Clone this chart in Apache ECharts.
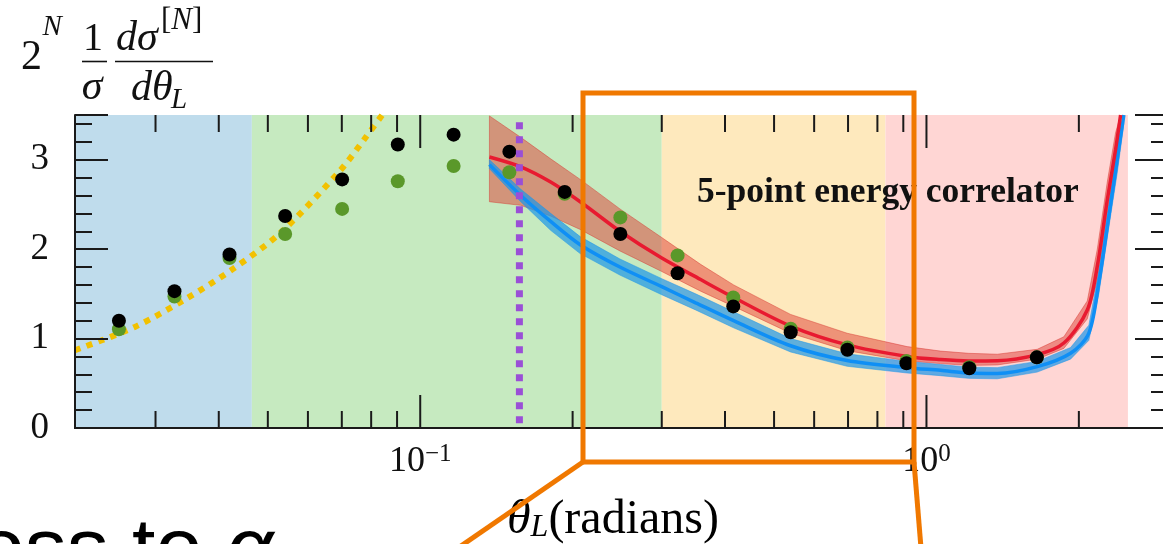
<!DOCTYPE html>
<html><head><meta charset="utf-8">
<script src="https://cdn.jsdelivr.net/npm/echarts@6/dist/echarts.min.js"></script>
<style>html,body{margin:0;padding:0;background:#fff;overflow:hidden}#c{width:1163px;height:544px}</style>
</head><body><div id="c"></div>
<script>
// ---------------- data ----------------
const bandEdges = [0.0208, 0.0465, 0.30, 0.83, 2.5];          // theta_L region boundaries
const thetaBins = [0.0254,0.0327,0.0420,0.0541,0.0701,0.0903,0.1164,0.150,0.1929,0.2485,0.3224,0.4153,0.5393,0.698,0.913,1.215,1.652];
const blackValues = [1.20,1.53,1.94,2.37,2.78,3.17,3.28,3.09,2.64,2.17,1.73,1.36,1.07,0.875,0.724,0.668,0.79];
const greenValues = [1.105,1.47,1.90,2.17,2.45,2.76,2.93,2.86,2.62,2.355,1.93,1.46,1.11,0.90,0.75,0.68,0.79];
const yellowTheta = [0.0208,0.0273,0.0346,0.0427,0.0529,0.0695,0.0778,0.0841];
const yellowValues = [0.87,1.13,1.45,1.78,2.18,2.88,3.24,3.5];
const purpleTheta = 0.157;
const purpleRange = [3.42, 0];
const redTheta = [0.137,0.158,0.181,0.207,0.248,0.300,0.358,0.416,0.539,0.697,0.916,1.066,1.212,1.38,1.655,1.868,2.078,2.175,2.276,2.363,2.418];
const redValues = [3.03,2.92,2.75,2.53,2.20,1.90,1.66,1.46,1.14,0.93,0.80,0.765,0.75,0.752,0.82,0.95,1.32,1.81,2.55,3.11,3.5];
const redUpper  = [3.49,3.25,3.01,2.78,2.45,2.13,1.83,1.60,1.27,1.06,0.91,0.86,0.835,0.825,0.88,1.02,1.42,2.0,2.75,3.3,3.5];
const redLower  = [2.53,2.49,2.37,2.22,1.98,1.75,1.53,1.36,1.06,0.865,0.75,0.72,0.70,0.705,0.77,0.89,1.22,1.65,2.4,2.95,3.3];
const blueTheta = [0.137,0.158,0.181,0.207,0.248,0.300,0.35,0.416,0.539,0.697,0.916,1.066,1.212,1.38,1.655,1.926,2.093,2.19,2.293,2.381,2.454];
const blueValues = [2.945,2.60,2.31,2.05,1.80,1.58,1.40,1.20,0.92,0.755,0.675,0.645,0.615,0.61,0.686,0.836,1.06,1.62,2.37,3.0,3.5];
const blueUpper  = [3.0,2.67,2.40,2.14,1.89,1.67,1.50,1.30,1.00,0.83,0.745,0.71,0.68,0.675,0.745,0.90,1.15,1.75,2.5,3.15,3.5];
const blueLower  = [2.90,2.53,2.21,1.95,1.71,1.49,1.32,1.12,0.85,0.69,0.615,0.585,0.555,0.55,0.625,0.77,0.98,1.5,2.25,2.85,3.4];
const xMajorTicks = [0.1, 1];
const xMinorTicks = [0.03,0.04,0.05,0.06,0.07,0.08,0.09,0.2,0.3,0.4,0.5,0.6,0.7,0.8,0.9,2,3];
const yTickLabels = ['0','1','2','3'];

// ---------------- styles ----------------
const X_MIN = 0.0208, X_MAX = 3.0, Y_MIN = 0, Y_MAX = 3.5;
const bandColors = ['#bfdcec', '#c6eac0', '#fee9bd', '#ffd6d4'];
const SERIF = '"Liberation Serif", "DejaVu Serif", serif';
const SANS = '"Liberation Sans", Arial, sans-serif';
const INK = '#1a1a1a';

const zip = (a, b) => a.map((v, i) => [v, b[i]]);

function tickSeries(values, len) {
  return {
    type: 'custom', z: 15, silent: true, clip: false,
    data: values.map(v => [v, Y_MIN]), encode: { x: 0, y: 1 },
    renderItem: (params, api) => {
      const x = api.value(0);
      const b = api.coord([x, Y_MIN]);
      const t = api.coord([x, Y_MAX]);
      return { type: 'group', children: [
        { type: 'line', shape: { x1: b[0], y1: b[1], x2: b[0], y2: b[1] - len }, style: { stroke: INK, lineWidth: 2 } },
        { type: 'line', shape: { x1: t[0], y1: t[1], x2: t[0], y2: t[1] + len }, style: { stroke: INK, lineWidth: 2 } }
      ]};
    }
  };
}

function bandSeries(thetas, lower, upper, fill, stroke, z) {
  return {
    type: 'custom', z, silent: true,
    data: [[thetas[0], lower[0]]], encode: { x: 0, y: 1 },
    renderItem: (params, api) => {
      const pts = [];
      for (let i = 0; i < thetas.length; i++) pts.push(api.coord([thetas[i], upper[i]]));
      for (let i = thetas.length - 1; i >= 0; i--) pts.push(api.coord([thetas[i], lower[i]]));
      return { type: 'polygon', shape: { points: pts }, style: { fill, stroke, lineWidth: 1 } };
    }
  };
}

const regionSeries = {
  type: 'custom', z: 1, silent: true,
  data: bandEdges.slice(0, -1).map((e, i) => [e, bandEdges[i + 1], i]),
  encode: { x: [0, 1] },
  renderItem: (params, api) => {
    const a = api.coord([api.value(0), Y_MAX]);
    const b = api.coord([api.value(1), Y_MIN]);
    return { type: 'rect', shape: { x: a[0], y: a[1], width: b[0] - a[0], height: b[1] - a[1] },
      style: { fill: bandColors[api.value(2)] } };
  }
};

const xLabelFormatter = v => {
  const e = Math.log10(v);
  if (Math.abs(e - Math.round(e)) > 1e-6) return '';
  const n = Math.round(e);
  return '{b|10}{s|' + (n < 0 ? '\u2212' + (-n) : n) + '}';
};
const xRich = {
  b: { fontFamily: SERIF, fontSize: 36, color: '#111' },
  s: { fontFamily: SERIF, fontSize: 25, color: '#111', verticalAlign: 'top', padding: [0, 0, 14, 0] }
};

const option = {
  animation: false,
  backgroundColor: '#fff',
  grid: { left: 75, right: -5, top: 115, bottom: 116, containLabel: false, outerBoundsMode: 'none' },
  xAxis: [{
    type: 'log', logBase: 10, min: X_MIN, max: X_MAX, position: 'bottom', z: 20,
    axisLine: { show: true, lineStyle: { color: INK, width: 2 } },
    axisTick: { show: false }, minorTick: { show: false }, splitLine: { show: false },
    axisLabel: { margin: 14, formatter: xLabelFormatter, rich: xRich }
  }, {
    type: 'log', logBase: 10, min: X_MIN, max: X_MAX, position: 'top', z: 20,
    axisLine: { show: true, lineStyle: { color: INK, width: 2 } },
    axisTick: { show: false }, minorTick: { show: false }, splitLine: { show: false },
    axisLabel: { show: false }
  }],
  yAxis: [0, 1].map(k => ({
    type: 'value', min: Y_MIN, max: Y_MAX, interval: 1, position: k ? 'right' : 'left', z: 20,
    axisLine: { show: true, lineStyle: { color: INK, width: 2 } },
    axisTick: { show: true, inside: true, length: 33, lineStyle: { color: INK, width: 2 } },
    minorTick: { show: true, splitNumber: 5, length: 17, lineStyle: { color: INK, width: 2 } },
    splitLine: { show: false }, minorSplitLine: { show: false },
    axisLabel: {
      show: !k, margin: 26, fontFamily: SERIF, fontSize: 37, color: '#111',
      formatter: v => (Number.isInteger(v) && yTickLabels.includes(String(v))) ? String(v) : ''
    }
  })),
  series: [
    regionSeries,
    tickSeries(xMajorTicks, 33),
    tickSeries(xMinorTicks, 17),
    bandSeries(redTheta, redLower, redUpper, 'rgba(222,62,52,0.5)', 'rgba(215,50,45,0.45)', 3),
    bandSeries(blueTheta, blueLower, blueUpper, 'rgba(28,150,232,0.7)', 'rgba(28,150,232,0.5)', 4),
    { type: 'line', z: 5, data: zip(yellowTheta, yellowValues), symbol: 'none', smooth: 0.3, clip: true,
      lineStyle: { color: '#f2c100', width: 6, type: [6, 6.5], cap: 'butt' } },
    { type: 'line', z: 6, data: zip(blueTheta, blueValues), symbol: 'none', smooth: 0.3, clip: true,
      lineStyle: { color: '#0f8ff5', width: 3.5 } },
    { type: 'line', z: 7, data: zip(redTheta, redValues), symbol: 'none', smooth: 0.3, clip: true,
      lineStyle: { color: '#e81a30', width: 3.5 } },
    { type: 'scatter', z: 8, data: zip(thetaBins, greenValues), symbol: 'circle', symbolSize: 14,
      itemStyle: { color: '#5a982a', opacity: 1 } },
    { type: 'scatter', z: 9, data: zip(thetaBins, blackValues), symbol: 'circle', symbolSize: 14,
      itemStyle: { color: '#000', opacity: 1 } },
    { type: 'line', z: 10, data: purpleRange.map(v => [purpleTheta, v]), symbol: 'none', clip: true,
      lineStyle: { color: '#9a4fd6', width: 7, type: [7, 7], cap: 'butt' } }
  ],
  graphic: [
    // y-axis title: 2^N (1/sigma) dsigma^[N]/dtheta_L
    { type: 'text', x: 31.5, y: 58, z: 50, style: { text: '2', font: '42px ' + SERIF, fill: '#111', textAlign: 'center', textVerticalAlign: 'middle' } },
    { type: 'text', x: 42.5, y: 27, z: 50, style: { text: 'N', font: 'italic 29px ' + SERIF, fill: '#111', textAlign: 'left', textVerticalAlign: 'middle' } },
    { type: 'text', x: 93, y: 39, z: 50, style: { text: '1', font: '40px ' + SERIF, fill: '#111', textAlign: 'center', textVerticalAlign: 'middle' } },
    { type: 'line', z: 50, shape: { x1: 82, y1: 61.5, x2: 107, y2: 61.5 }, style: { stroke: '#111', lineWidth: 1.6 } },
    { type: 'text', x: 92, y: 88, z: 50, style: { text: 'σ', font: 'italic 42px ' + SERIF, fill: '#111', textAlign: 'center', textVerticalAlign: 'middle' } },
    { type: 'text', x: 116, y: 39, z: 50, style: { text: 'dσ', font: 'italic 42px ' + SERIF, fill: '#111', textAlign: 'left', textVerticalAlign: 'middle' } },
    { type: 'text', x: 161, y: 21, z: 50, style: { text: '{r|[}{i|N}{r|]}', fill: '#111', textAlign: 'left', textVerticalAlign: 'middle',
        rich: { r: { fontFamily: SERIF, fontSize: 31, color: '#111' }, i: { fontFamily: SERIF, fontStyle: 'italic', fontSize: 31, color: '#111' } } } },
    { type: 'line', z: 50, shape: { x1: 115, y1: 61.5, x2: 213, y2: 61.5 }, style: { stroke: '#111', lineWidth: 1.6 } },
    { type: 'text', x: 131, y: 89, z: 50, style: { text: 'dθ', font: 'italic 42px ' + SERIF, fill: '#111', textAlign: 'left', textVerticalAlign: 'middle' } },
    { type: 'text', x: 171, y: 100, z: 50, style: { text: 'L', font: 'italic 29px ' + SERIF, fill: '#111', textAlign: 'left', textVerticalAlign: 'middle' } },
    // in-plot label
    { type: 'text', x: 697, y: 193, z: 50, style: { text: '5-point energy correlator', font: 'bold 35.5px ' + SERIF, fill: '#111', textAlign: 'left', textVerticalAlign: 'middle' } },
    // x-axis title
    { type: 'text', x: 507, y: 520, z: 50, style: { text: '{i|θ}{s|L}{r|(radians)}', textAlign: 'left', textVerticalAlign: 'middle',
        rich: { i: { fontFamily: SERIF, fontStyle: 'italic', fontSize: 48, color: '#111' },
                s: { fontFamily: SERIF, fontStyle: 'italic', fontSize: 32, color: '#111', verticalAlign: 'bottom' },
                r: { fontFamily: SERIF, fontSize: 48, color: '#111' } } } },
    // cut-off slide text
    { type: 'text', x: -22, y: 553, z: 50, style: { text: '{n|oss to }{a|α}', textAlign: 'left', textVerticalAlign: 'middle',
        rich: { n: { fontFamily: SANS, fontSize: 84, color: '#000' },
                a: { fontFamily: SANS, fontStyle: 'italic', fontSize: 84, color: '#000' } } } },
    // orange zoom box and connectors
    { type: 'rect', z: 60, shape: { x: 583, y: 93, width: 331, height: 369 }, style: { fill: 'none', stroke: '#f07800', lineWidth: 5 } },
    { type: 'line', z: 60, shape: { x1: 583, y1: 462, x2: 458, y2: 548 }, style: { stroke: '#f07800', lineWidth: 5 } },
    { type: 'line', z: 60, shape: { x1: 914, y1: 462, x2: 921, y2: 548 }, style: { stroke: '#f07800', lineWidth: 5 } }
  ]
};

const chart = echarts.init(document.getElementById('c'), null, { renderer: 'canvas', width: 1163, height: 544 });
chart.setOption(option);
</script>
</body></html>
